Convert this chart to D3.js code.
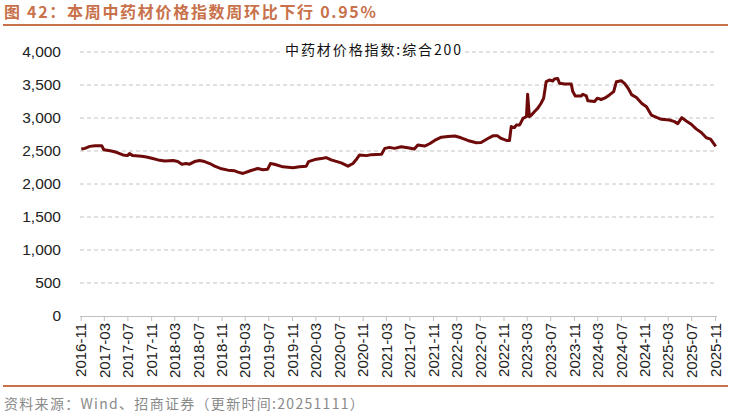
<!DOCTYPE html>
<html><head><meta charset="utf-8">
<script src="https://cdn.jsdelivr.net/npm/d3@7"></script>
<style>
html,body{margin:0;padding:0;background:#fff;}
svg{display:block;font-family:"Liberation Sans",Arial,sans-serif;}
</style></head>
<body>
<svg id="chart" width="731" height="414"></svg>
<script>
const titleText = "图 42：本周中药材价格指数周环比下行 0.95%";
const sourceText = "资料来源：Wind、招商证券（更新时间:20251111）";
const seriesName = "中药材价格指数:综合200";

const dates = ["2016-11-04","2016-11-23","2016-12-18","2017-01-14","2017-02-18","2017-03-01","2017-04-09","2017-05-05","2017-06-08","2017-07-01","2017-07-12","2017-07-29","2017-09-12","2017-10-08","2017-11-04","2017-12-07","2018-01-11","2018-02-23","2018-03-19","2018-04-09","2018-05-02","2018-05-19","2018-06-14","2018-07-10","2018-08-05","2018-09-01","2018-09-26","2018-11-01","2018-12-04","2019-01-08","2019-01-25","2019-02-20","2019-04-03","2019-05-07","2019-06-03","2019-06-28","2019-07-12","2019-08-02","2019-09-15","2019-11-06","2019-12-10","2020-01-14","2020-01-26","2020-02-27","2020-04-09","2020-04-26","2020-05-22","2020-07-13","2020-08-17","2020-09-12","2020-09-29","2020-10-16","2020-11-21","2020-12-16","2021-02-07","2021-02-24","2021-03-20","2021-04-15","2021-05-20","2021-06-23","2021-07-27","2021-08-14","2021-09-18","2021-10-14","2021-11-09","2021-12-14","2022-01-17","2022-02-22","2022-03-26","2022-04-30","2022-06-13","2022-07-08","2022-08-12","2022-09-07","2022-09-30","2022-10-20","2022-11-16","2022-12-02","2022-12-11","2022-12-28","2023-01-07","2023-01-24","2023-02-10","2023-02-28","2023-03-06","2023-03-15","2023-03-26","2023-04-10","2023-04-27","2023-05-14","2023-05-28","2023-06-10","2023-06-27","2023-07-14","2023-07-23","2023-08-09","2023-08-18","2023-09-14","2023-10-18","2023-10-26","2023-11-08","2023-12-09","2023-12-17","2024-01-04","2024-01-12","2024-02-16","2024-03-01","2024-03-21","2024-04-08","2024-05-03","2024-05-25","2024-06-08","2024-07-03","2024-07-20","2024-08-10","2024-08-27","2024-09-20","2024-10-18","2024-11-11","2024-12-06","2025-01-02","2025-01-27","2025-03-10","2025-04-05","2025-04-22","2025-05-13","2025-06-05","2025-07-01","2025-07-26","2025-08-22","2025-09-17","2025-10-09","2025-11-05"];
const values = [2530,2540,2570,2580,2580,2520,2500,2480,2440,2430,2460,2430,2420,2410,2390,2365,2350,2355,2340,2300,2310,2300,2340,2355,2340,2310,2270,2230,2210,2200,2180,2160,2205,2235,2215,2225,2310,2300,2260,2245,2260,2270,2340,2370,2390,2400,2365,2320,2270,2310,2370,2440,2430,2445,2450,2540,2555,2540,2565,2550,2530,2590,2575,2610,2660,2710,2720,2727,2700,2660,2625,2630,2690,2730,2730,2690,2660,2660,2870,2855,2895,2895,2995,3020,3360,3020,3045,3095,3145,3220,3300,3550,3575,3560,3590,3600,3525,3515,3515,3400,3335,3335,3360,3335,3260,3250,3300,3280,3300,3350,3400,3550,3565,3525,3440,3350,3310,3220,3170,3045,3010,2980,2970,2945,2915,3005,2955,2905,2835,2780,2700,2680,2570];
const yTicks = [0,500,1000,1500,2000,2500,3000,3500,4000];
const xTickLabels = ["2016-11","2017-03","2017-07","2017-11","2018-03","2018-07","2018-11","2019-03","2019-07","2019-11","2020-03","2020-07","2020-11","2021-03","2021-07","2021-11","2022-03","2022-07","2022-11","2023-03","2023-07","2023-11","2024-03","2024-07","2024-11","2025-03","2025-07","2025-11"];

const parse = d3.timeParse("%Y-%m-%d");
const parseM = d3.timeParse("%Y-%m");
const data = dates.map((d,i)=>({date:parse(d), value:values[i]}));

const svg = d3.select("#chart");
const accent = "#C8714A";

// title
svg.append("text").attr("x",4).attr("y",18).attr("fill",accent)
  .attr("font-size",16).attr("font-weight","bold").attr("letter-spacing",1.7)
  .attr("font-family","'Noto Sans CJK SC','Liberation Sans',sans-serif")
  .text(titleText);
svg.append("line").attr("x1",3).attr("x2",728).attr("y1",25).attr("y2",25)
  .attr("stroke",accent).attr("stroke-width",2);
svg.append("line").attr("x1",3).attr("x2",728).attr("y1",386).attr("y2",386)
  .attr("stroke",accent).attr("stroke-width",2);
svg.append("text").attr("x",4).attr("y",409).attr("fill","#8a8a8a")
  .attr("font-size",14).attr("letter-spacing",1.3)
  .attr("font-family","'Noto Sans CJK SC','Liberation Sans',sans-serif")
  .text(sourceText);

const x = d3.scaleTime().domain([parseM("2016-11"), parseM("2025-11")]).range([80.7, 715]);
const y = d3.scaleLinear().domain([0,4000]).range([316, 52]);

// gridlines
svg.append("g").selectAll("line").data(yTicks.filter(d=>d>0)).join("line")
  .attr("x1",80).attr("x2",716).attr("y1",d=>y(d)).attr("y2",d=>y(d))
  .attr("stroke","#C4C4C4").attr("stroke-width",1).attr("stroke-dasharray","4,3");

// y axis labels
const yAxis = d3.axisLeft(y).tickValues(yTicks).tickSize(0).tickPadding(0)
  .tickFormat(d3.format(","));
const gy = svg.append("g").attr("transform","translate(61,0)").call(yAxis);
gy.select(".domain").remove();
gy.selectAll("text").attr("font-size",15.5).attr("fill","#222")
  .attr("font-family","'Liberation Sans',Arial,sans-serif");

// x axis
const xAxis = d3.axisBottom(x).tickValues(xTickLabels.map(parseM)).tickSize(5)
  .tickSizeOuter(0).tickFormat(d3.timeFormat("%Y-%m"));
const gx = svg.append("g").attr("transform","translate(0,316)").call(xAxis);
gx.select(".domain").attr("stroke","#BFBFBF").attr("d","M80,0.5H717");
gx.selectAll(".tick line").attr("stroke","#BFBFBF");
gx.selectAll("text").attr("font-size",15).attr("fill","#222")
  .attr("font-family","'Liberation Sans',Arial,sans-serif")
  .attr("transform","rotate(-90)").attr("text-anchor","end")
  .attr("dx","-7").attr("dy","0.35em").attr("x",0).attr("y",0);

// line
const line = d3.line().x(d=>x(d.date)).y(d=>y(d.value));
svg.append("path").datum(data).attr("d",line).attr("fill","none")
  .attr("stroke","#6E0A0A").attr("stroke-width",3).attr("stroke-linejoin","round");

// legend
const lg = svg.append("g");
const lt = lg.append("text").attr("x",374).attr("y",55).attr("text-anchor","middle")
  .attr("font-size",14).attr("fill","#111").attr("letter-spacing",1.9)
  .attr("font-family","'Noto Sans CJK SC','Liberation Sans',sans-serif")
  .text(seriesName);
const bb = lt.node().getBBox();
lg.insert("rect","text").attr("x",bb.x-2).attr("y",bb.y+1).attr("width",bb.width+4).attr("height",bb.height-2).attr("fill","#fff");
</script>
</body></html>
